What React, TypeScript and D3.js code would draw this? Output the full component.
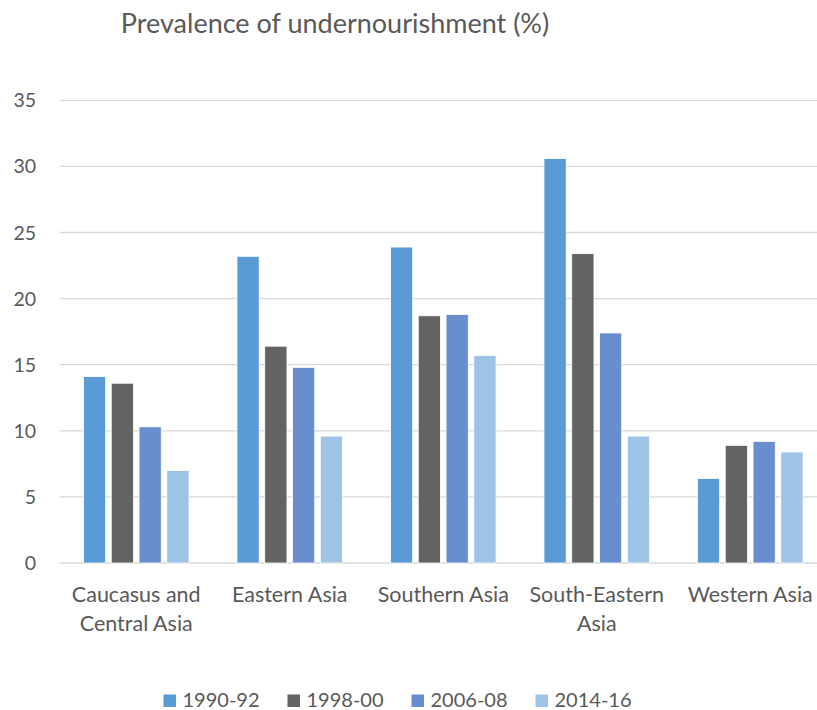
import React from "react";
import * as d3 from "d3";

const categories: string[][] = [
  ["Caucasus and", "Central Asia"],
  ["Eastern Asia"],
  ["Southern Asia"],
  ["South-Eastern", "Asia"],
  ["Western Asia"],
];
const series = ["1990-92", "1998-00", "2006-08", "2014-16"];
const v1990 = [14.1, 23.2, 23.9, 30.6, 6.4];
const v1998 = [13.6, 16.4, 18.7, 23.4, 8.9];
const v2006 = [10.3, 14.8, 18.8, 17.4, 9.2];
const v2014 = [7.0, 9.6, 15.7, 9.6, 8.4];
const yTicks = [0, 5, 10, 15, 20, 25, 30, 35];
const colors = ["#5B9BD5", "#636363", "#698ED0", "#9DC3E6"];
const title = "Prevalence of undernourishment (%)";

const W = 817;
const H = 710;
const FONT = "Lato, 'Open Sans', sans-serif";
const TEXT = "#595959";

export default function App() {
  const values = [v1990, v1998, v2006, v2014];
  const keys = categories.map((c) => c.join(" "));
  const x0 = d3.scaleBand<string>().domain(keys).range([59.5, 827]).padding(0);
  const x1 = d3.scaleBand<string>().domain(series).range([0, 105.6]).paddingInner(0.2).paddingOuter(0);
  const y = d3.scaleLinear().domain([0, 35]).range([563, 100.3]);
  const groupW = 105.6;

  return (
    <svg
      width={W}
      height={H}
      style={{ position: "absolute", left: 0, top: 0, background: "#fff" }}
      fontFamily={FONT}
    >
      <rect x={0} y={0} width={W} height={H} fill="#fff" />
      <text x={335} y={33} textAnchor="middle" fontSize={27} fill={TEXT}>
        {title}
      </text>
      {yTicks.map((t) => (
        <g key={t}>
          <line x1={59.5} x2={W} y1={y(t)} y2={y(t)} stroke="#D9D9D9" strokeWidth={1.3} />
          <text x={36} y={y(t)} dy="0.36em" textAnchor="end" fontSize={19.5} fill={TEXT}>
            {t}
          </text>
        </g>
      ))}
      {keys.map((k, ci) => {
        const cx = (x0(k) as number) + x0.bandwidth() / 2;
        const gx = cx - groupW / 2;
        return (
          <g key={k}>
            {series.map((s, si) => {
              const v = values[si][ci];
              return (
                <rect
                  key={s}
                  x={gx + (x1(s) as number)}
                  y={y(v)}
                  width={x1.bandwidth()}
                  height={y(0) - y(v)}
                  fill={colors[si]}
                  stroke="#fff"
                  strokeWidth={0.8}
                />
              );
            })}
            {categories[ci].map((line, li) => (
              <text
                key={li}
                x={cx}
                y={602 + li * 28.5}
                textAnchor="middle"
                fontSize={21.5}
                fill={TEXT}
              >
                {line}
              </text>
            ))}
          </g>
        );
      })}
      {series.map((s, si) => {
        const lx = 163.5 + si * 124;
        return (
          <g key={s}>
            <rect x={lx} y={694.5} width={12.5} height={12.5} fill={colors[si]} />
            <text x={lx + 19} y={706.7} fontSize={20} fill={TEXT}>
              {s}
            </text>
          </g>
        );
      })}
    </svg>
  );
}
